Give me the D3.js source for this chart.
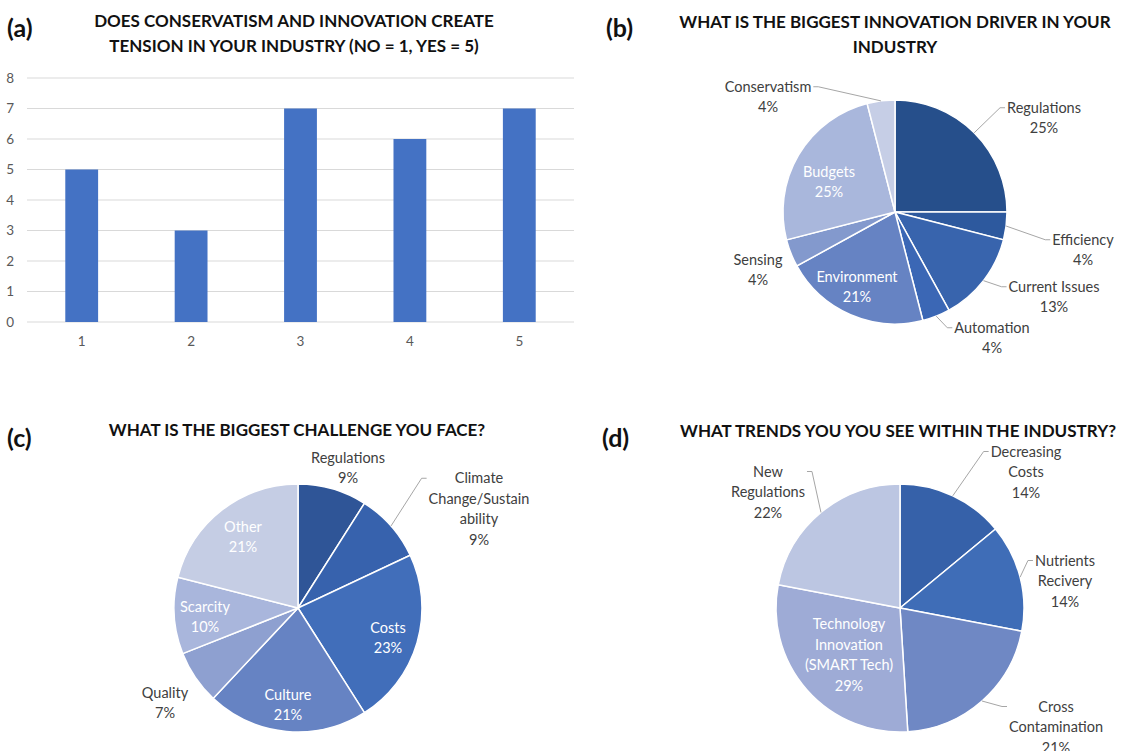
<!DOCTYPE html>
<html>
<head>
<meta charset="utf-8">
<script src="https://cdn.jsdelivr.net/npm/d3@7"></script>
<style>
  body { margin: 0; background: #fff; }
  svg text { font-family: Lato, "Open Sans", sans-serif; }
</style>
</head>
<body>
<svg id="chart" width="1122" height="751"></svg>
<script>
// (a) bar chart data
var barCats = ["1", "2", "3", "4", "5"];
var barValues = [5, 3, 7, 6, 7];
var yTicks = [0, 1, 2, 3, 4, 5, 6, 7, 8];

// (b) innovation drivers, percent
var driverNames = [["Regulations"], ["Efficiency"], ["Current Issues"], ["Automation"], ["Environment"], ["Sensing"], ["Budgets"], ["Conservatism"]];
var driverValues = [25, 4, 13, 4, 21, 4, 25, 4];
var driverColors = ["#264f8b", "#2d599e", "#3864ad", "#3b67b5", "#6683c3", "#8399cd", "#a9b7dc", "#c6cee6"];

// (c) biggest challenge, percent
var challengeNames = [["Regulations"], ["Climate", "Change/Sustain", "ability"], ["Costs"], ["Culture"], ["Quality"], ["Scarcity"], ["Other"]];
var challengeValues = [9, 9, 23, 21, 7, 10, 21];
var challengeColors = ["#2f5597", "#3762ad", "#416eba", "#6683c3", "#8ea0d0", "#a9b6dc", "#c5cde4"];

// (d) trends, percent
var trendNames = [["Decreasing", "Costs"], ["Nutrients", "Recivery"], ["Cross", "Contamination"], ["Technology", "Innovation", "(SMART Tech)"], ["New", "Regulations"]];
var trendValues = [14, 14, 21, 29, 22];
var trendColors = ["#3661a9", "#3f6db7", "#6f88c4", "#9eabd6", "#bcc6e2"];

// label layout (offset of text block centre from pie centre)
var driverLayout = [
  { dx: 149, dy: -94, leader: true }, { dx: 188, dy: 38, leader: true },
  { dx: 159, dy: 85, leader: true }, { dx: 97, dy: 126, leader: true },
  { dx: -38, dy: 75, inside: true }, { dx: -137, dy: 58 },
  { dx: -66, dy: -30, inside: true }, { dx: -127, dy: -115, leader: true }
];
var challengeLayout = [
  { dx: 50, dy: -140 }, { dx: 181, dy: -99, leader: true },
  { dx: 90, dy: 30, inside: true }, { dx: -10, dy: 97, inside: true },
  { dx: -133, dy: 95 }, { dx: -93, dy: 9, inside: true },
  { dx: -55, dy: -71, inside: true }
];
var trendLayout = [
  { dx: 126, dy: -136, leader: true }, { dx: 165, dy: -27, leader: true },
  { dx: 156, dy: 119, leader: true }, { dx: -51, dy: 47, inside: true },
  { dx: -132, dy: -116, leader: true }
];

var svg = d3.select("#chart");

function panelTitle(letter, lx, ly, lines, cx, y0) {
  svg.append("text").attr("x", lx).attr("y", ly)
    .style("font-size", "25px").style("font-weight", "bold").attr("fill", "#111")
    .text(letter);
  lines.forEach(function(t, i) {
    svg.append("text").attr("x", cx).attr("y", y0 + i * 25)
      .attr("text-anchor", "middle")
      .style("font-size", "17px").style("font-weight", "bold").attr("fill", "#111")
      .text(t);
  });
}

// ---- (a) bar chart ----
panelTitle("(a)", 7, 37, ["DOES CONSERVATISM AND INNOVATION CREATE", "TENSION IN YOUR INDUSTRY (NO = 1, YES = 5)"], 294, 27);

var x = d3.scaleBand().domain(barCats).range([27, 574]).paddingInner(0.7).paddingOuter(0.35);
var y = d3.scaleLinear().domain([0, 8]).range([322, 78]);

var ga = svg.append("g");
ga.selectAll(".grid").data(yTicks).enter().append("line")
  .attr("x1", 27).attr("x2", 574)
  .attr("y1", function(d) { return y(d); })
  .attr("y2", function(d) { return y(d); })
  .attr("stroke", "#d9d9d9").attr("stroke-width", 1);

var yAxis = d3.axisLeft(y).tickValues(yTicks).tickSize(0).tickPadding(0);
ga.append("g").attr("transform", "translate(14,0)").call(yAxis)
  .call(function(g) { g.select(".domain").remove(); })
  .selectAll("text").style("font-size", "13.5px").attr("fill", "#595959")
  .attr("font-family", null);

ga.selectAll(".bar").data(barValues).enter().append("rect")
  .attr("x", function(d, i) { return x(barCats[i]); })
  .attr("y", function(d) { return y(d); })
  .attr("width", x.bandwidth())
  .attr("height", function(d) { return y(0) - y(d); })
  .attr("fill", "#4472c4");

var xAxis = d3.axisBottom(x).tickSize(0).tickPadding(14);
ga.append("g").attr("transform", "translate(0,322)").call(xAxis)
  .call(function(g) { g.select(".domain").remove(); })
  .selectAll("text").style("font-size", "13.5px").attr("fill", "#595959")
  .attr("font-family", null);

// ---- pies ----
function drawPie(cx, cy, r, names, values, colors, layout) {
  var pie = d3.pie().sort(null).value(function(d) { return d; });
  var arcs = pie(values);
  var arc = d3.arc().innerRadius(0).outerRadius(r);
  var g = svg.append("g").attr("transform", "translate(" + cx + "," + cy + ")");
  g.selectAll("path").data(arcs).enter().append("path")
    .attr("d", arc)
    .attr("fill", function(d, i) { return colors[i]; })
    .attr("stroke", "#fff").attr("stroke-width", 1.5);

  var lh = 20.5;
  arcs.forEach(function(a, i) {
    var lay = layout[i];
    var lines = names[i].concat([values[i] + "%"]);
    var top = lay.dy - (lines.length - 1) * lh / 2;
    var t = g.append("text").attr("text-anchor", "middle")
      .style("font-size", "14.5px")
      .attr("fill", lay.inside ? "#fff" : "#404040");
    lines.forEach(function(s, k) {
      t.append("tspan").attr("x", lay.dx).attr("y", top + k * lh + 5).text(s);
    });
    if (lay.leader) {
      var bb = t.node().getBBox();
      var mid = (a.startAngle + a.endAngle) / 2;
      var ex = r * Math.sin(mid), ey = -r * Math.cos(mid);
      var right = lay.dx > ex;
      var lx = right ? bb.x - 2 : bb.x + bb.width + 2;
      var ly = top;
      var elbow = right ? lx - 5 : lx + 5;
      g.append("polyline")
        .attr("points", [[ex, ey], [elbow, ly], [lx, ly]].join(" "))
        .attr("fill", "none").attr("stroke", "#a6a6a6").attr("stroke-width", 1);
    }
  });
}

panelTitle("(b)", 606, 37, ["WHAT IS THE BIGGEST INNOVATION DRIVER IN YOUR", "INDUSTRY"], 895, 28);
drawPie(895, 212, 112, driverNames, driverValues, driverColors, driverLayout);

panelTitle("(c)", 7, 447, ["WHAT IS THE BIGGEST CHALLENGE YOU FACE?"], 297, 436);
drawPie(298, 608, 124, challengeNames, challengeValues, challengeColors, challengeLayout);

panelTitle("(d)", 602, 447, ["WHAT TRENDS YOU YOU SEE WITHIN THE INDUSTRY?"], 898, 437);
drawPie(900, 608, 124, trendNames, trendValues, trendColors, trendLayout);
</script>
</body>
</html>
